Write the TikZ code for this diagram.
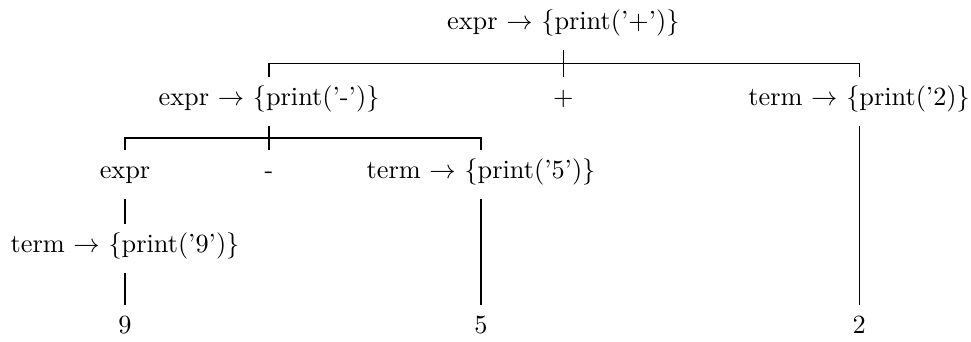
\documentclass[tikz,border=0pt]{standalone}
\usepackage{amsmath,amssymb}
\usepackage{tikz}
\usetikzlibrary{calc}

\begin{document}
\begin{tikzpicture}[
  lbl/.style={anchor=base, inner xsep=0pt, inner ysep=2pt,
              text height=8.3pt, text depth=5.6pt},
  edge/.style={draw, line width=0.4pt}
]
\useasboundingbox (0,0) rectangle (12.98,-4.56);

% ---- Nodes, level by level ----
\node[lbl] (root)  at (7.53,-0.388)  {expr $\to$ \{print('+')\}};

\node[lbl] (e1)    at (3.596,-1.404) {expr $\to$ \{print('-')\}};
\node[lbl] (plus)  at (7.53,-1.404)  {+};
\node[lbl] (t2)    at (11.484,-1.404){term $\to$ \{print('2)\}};

\node[lbl] (ex)    at (1.671,-2.380) {expr};
\node[lbl] (minus) at (3.596,-2.380) {-};
\node[lbl] (t5)    at (6.430,-2.380) {term $\to$ \{print('5')\}};

\node[lbl] (t9)    at (1.671,-3.369) {term $\to$ \{print('9')\}};

\node[lbl] (n9)    at (1.671,-4.452) {9};
\node[lbl] (n5)    at (6.430,-4.452) {5};
\node[lbl] (n2)    at (11.484,-4.452){2};

% ---- Forks ----
\draw[edge] (root.south) -- (plus.north);
\draw[edge] (e1.north) |- ($(root.south)!.5!(plus.north)$) -| (t2.north);

\draw[edge] (e1.south) -- (minus.north);
\draw[edge] (ex.north) |- ($(e1.south)!.5!(minus.north)$) -| (t5.north);

% ---- Single edges ----
\draw[edge] (ex.south) -- (t9.north);
\draw[edge] (t9.south) -- (n9.north);
\draw[edge] (t5.south) -- (n5.north);
\draw[edge] (t2.south) -- (n2.north);

\end{tikzpicture}
\end{document}
